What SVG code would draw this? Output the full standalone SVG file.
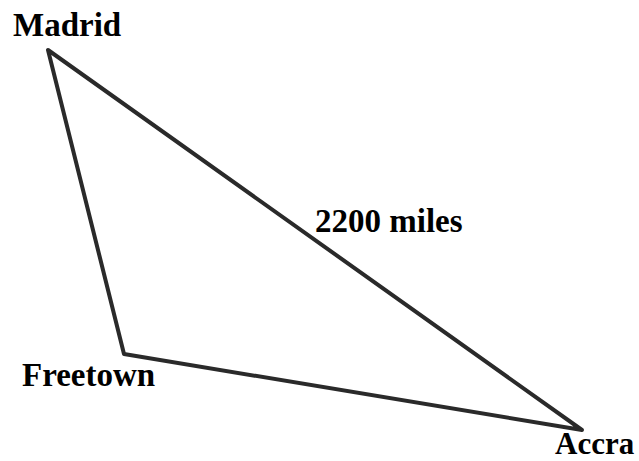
<svg xmlns="http://www.w3.org/2000/svg" width="639" height="461" viewBox="0 0 639 461">
<style>
.lbl{font-family:"Liberation Serif","Times New Roman",serif;font-weight:bold;font-size:33px;fill:#000}
.edge{stroke:#2a2a2a;stroke-width:4;fill:none;stroke-linejoin:round;stroke-linecap:round}
</style>
<rect width="639" height="461" fill="#fff"/>
<g id="connectors">
<polygon class="edge" points="48,50 124,354 582,430"/>
</g>
<g id="madrid"><text class="lbl" x="13" y="36">Madrid</text></g>
<g id="freetown"><text class="lbl" x="22" y="386">Freetown</text></g>
<g id="accra"><text class="lbl" x="555" y="454" style="font-size:31px">Accra</text></g>
<g id="edge-label"><text class="lbl" x="315" y="232">2200 miles</text></g>
</svg>
